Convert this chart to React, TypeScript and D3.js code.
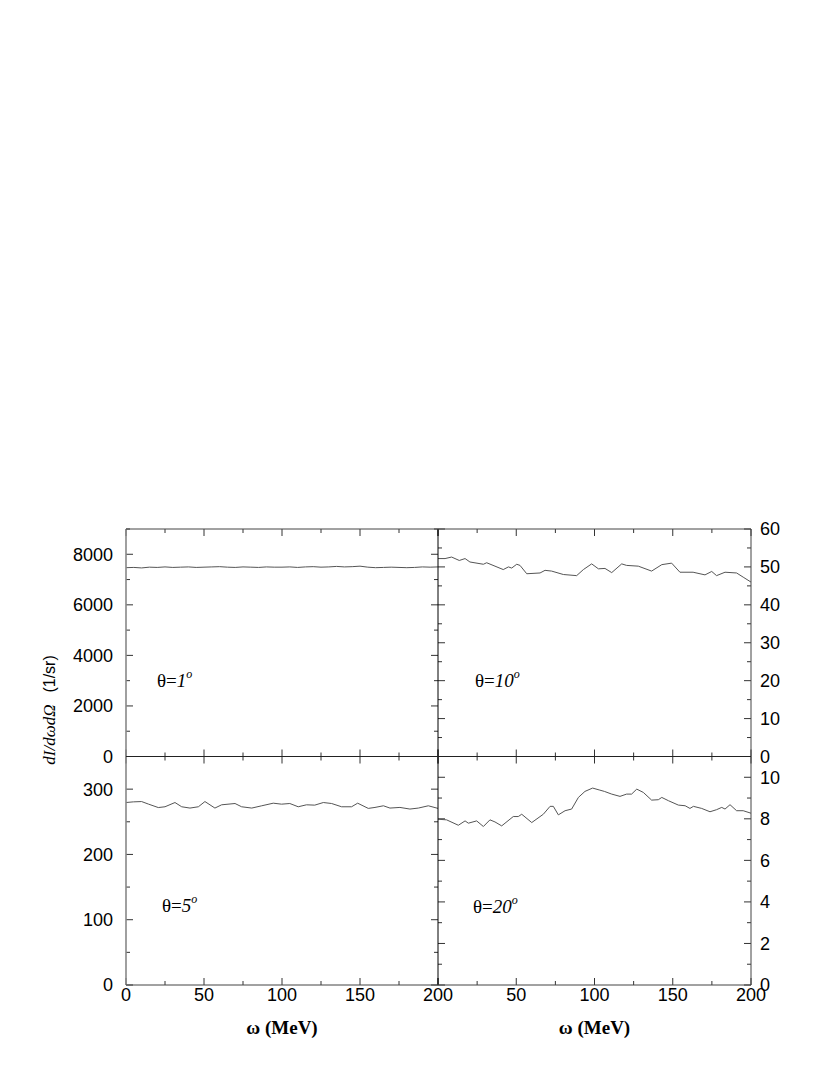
import React from "react";
import * as d3 from "d3";

// ---- data ----
const omega1 = d3.range(0, 201, 5);
const value1 = [7470, 7480, 7460, 7490, 7480, 7500, 7480, 7490, 7500, 7480, 7490, 7500, 7510, 7490, 7480, 7500, 7490, 7480, 7500, 7490, 7490, 7500, 7480, 7500, 7510, 7490, 7500, 7520, 7500, 7510, 7530, 7490, 7470, 7480, 7490, 7480, 7470, 7480, 7500, 7490, 7500];

const omega10 = [0, 4.5, 8.7, 13.6, 17.3, 20.4, 29, 31.1, 41.7, 45, 47.1, 50.3, 52.4, 56.7, 65.2, 68.4, 72.6, 80.1, 88.6, 92.9, 98.2, 102.5, 106.7, 111, 117.4, 120.5, 128, 136.5, 143, 149.3, 154.6, 163, 170.6, 174.9, 178, 183.4, 190.8, 195, 200];
const value10 = [52.2, 52.2, 52.6, 51.7, 52.2, 51.3, 50.7, 51.1, 49.3, 50, 49.7, 50.7, 50.4, 48.2, 48.4, 49.1, 48.9, 48, 47.7, 49.3, 50.8, 49.5, 49.6, 48.5, 50.8, 50.4, 50.2, 48.9, 50.6, 51, 48.6, 48.6, 47.9, 48.8, 47.7, 48.6, 48.4, 47.3, 46];

const omega5 = [0, 4.7, 10, 14.5, 20.7, 25, 31.4, 35.7, 41, 46.4, 50.6, 57, 61.3, 69.9, 74.1, 80.6, 87, 94.4, 99.7, 105, 110.4, 115.7, 121, 126.5, 131.8, 138.2, 144.6, 148.5, 155.3, 159.6, 165, 169.2, 175.6, 182, 187.4, 193.8, 200];
const value5 = [279.5, 280.5, 281, 277, 271.8, 273, 279.5, 273, 271, 273, 281, 271, 276, 278, 273, 271, 274.5, 278.5, 277, 278, 273, 276, 275.5, 279.5, 278, 273, 273, 278.5, 270.5, 272, 274.5, 271, 272, 269.5, 271, 274.5, 270.5];

const omega20 = [0, 5.5, 13, 17.3, 19.4, 24.7, 29, 33.2, 36.4, 40.7, 48.1, 51.3, 53.5, 59.9, 67.3, 71.6, 73.7, 76.9, 81.2, 85.4, 89.7, 93.9, 98.8, 103, 106.3, 111, 116.3, 120.5, 123.7, 127, 131.2, 136.5, 140.8, 143, 147.3, 153.6, 157.9, 161, 163.2, 168.5, 173.8, 178, 181.3, 183.4, 186.6, 190.8, 195, 200];
const value20 = [7.98, 7.95, 7.69, 7.9, 7.79, 7.9, 7.63, 7.95, 7.85, 7.66, 8.11, 8.11, 8.22, 7.82, 8.22, 8.6, 8.6, 8.19, 8.39, 8.47, 9.03, 9.32, 9.48, 9.39, 9.32, 9.19, 9.08, 9.19, 9.19, 9.43, 9.27, 8.9, 8.92, 9.03, 8.87, 8.66, 8.63, 8.5, 8.6, 8.5, 8.34, 8.44, 8.55, 8.47, 8.68, 8.39, 8.39, 8.27];

const xMajor = [0, 50, 100, 150, 200];
const xMinor = [25, 75, 125, 175];

// ---- layout ----
const X0 = 126, XM = 438, X1 = 751;
const Y0 = 529, YM = 756.5, Y1 = 985;
const MAJ = 7, MIN = 4;

type PanelDef = {
  x0: number; x1: number; y0: number; y1: number;
  ymax: number; yMajorStep: number; yMinorStep: number;
  omega: number[]; values: number[];
  side: "left" | "right"; bottom: boolean; top: boolean;
  label: string; labelX: number; labelY: number;
  showX0: boolean;
};

const panels: PanelDef[] = [
  { x0: X0, x1: XM, y0: Y0, y1: YM, ymax: 9000, yMajorStep: 2000, yMinorStep: 1000, omega: omega1, values: value1, side: "left", bottom: false, top: true, label: "1", labelX: 157, labelY: 687, showX0: true },
  { x0: XM, x1: X1, y0: Y0, y1: YM, ymax: 60, yMajorStep: 10, yMinorStep: 5, omega: omega10, values: value10, side: "right", bottom: false, top: true, label: "10", labelX: 475, labelY: 687, showX0: false },
  { x0: X0, x1: XM, y0: YM, y1: Y1, ymax: 350, yMajorStep: 100, yMinorStep: 50, omega: omega5, values: value5, side: "left", bottom: true, top: false, label: "5", labelX: 162, labelY: 912, showX0: true },
  { x0: XM, x1: X1, y0: YM, y1: Y1, ymax: 11, yMajorStep: 2, yMinorStep: 1, omega: omega20, values: value20, side: "right", bottom: true, top: false, label: "20", labelX: 473, labelY: 913, showX0: false },
];

const SANS = "'Liberation Sans', Arial, Helvetica, sans-serif";
const SERIF = "'Liberation Serif', 'Times New Roman', Times, serif";

function Panel({ p }: { p: PanelDef }) {
  const x = d3.scaleLinear().domain([0, 200]).range([p.x0, p.x1]);
  const y = d3.scaleLinear().domain([0, p.ymax]).range([p.y1, p.y0]);
  const line = d3.line<number>().x((_, i) => x(p.omega[i])).y((v) => y(v));
  const yMaj = d3.range(0, p.ymax + 1e-9, p.yMajorStep);
  const yMin = d3.range(0, p.ymax + 1e-9, p.yMinorStep).filter((v) => !yMaj.includes(v));
  const ticks: any[] = [];
  const tk = "#333";
  [p.x0, p.x1].forEach((sx, si) => {
    const dir = si === 0 ? 1 : -1;
    yMaj.forEach((v, i) => ticks.push(<line key={`ym${si}-${i}`} x1={sx} x2={sx + dir * MAJ} y1={y(v)} y2={y(v)} stroke={tk} strokeWidth={1} />));
    yMin.forEach((v, i) => ticks.push(<line key={`yn${si}-${i}`} x1={sx} x2={sx + dir * MIN} y1={y(v)} y2={y(v)} stroke={tk} strokeWidth={1} />));
  });
  [p.y0, p.y1].forEach((sy, si) => {
    const dir = si === 0 ? 1 : -1;
    xMajor.forEach((v, i) => ticks.push(<line key={`xm${si}-${i}`} y1={sy} y2={sy + dir * MAJ} x1={x(v)} x2={x(v)} stroke={tk} strokeWidth={1} />));
    xMinor.forEach((v, i) => ticks.push(<line key={`xn${si}-${i}`} y1={sy} y2={sy + dir * MIN} x1={x(v)} x2={x(v)} stroke={tk} strokeWidth={1} />));
  });
  return (
    <g>
      {ticks}
      <path d={line(p.values) || ""} fill="none" stroke="#555" strokeWidth={1} />
      {yMaj.map((v, i) => (
        <text key={`yl${i}`} x={p.side === "left" ? 113 : 760} y={y(v)} dy="0.36em" textAnchor={p.side === "left" ? "end" : "start"} fontFamily={SANS} fontSize={18} fill="#000">{v}</text>
      ))}
      {p.bottom && xMajor.filter((v) => p.showX0 || v !== 0).map((v, i) => (
        <text key={`xl${i}`} x={x(v)} y={1001} textAnchor="middle" fontFamily={SANS} fontSize={18} fill="#000">{v}</text>
      ))}
      {p.bottom && (
        <text x={(p.x0 + p.x1) / 2} y={1034} textAnchor="middle" fontFamily={SERIF} fontWeight="bold" fontSize={19} fill="#000">ω (MeV)</text>
      )}
      <text x={p.labelX} y={p.labelY} fontFamily={SERIF} fontSize={19} fill="#000">
        <tspan>θ=</tspan>
        <tspan fontStyle="italic">{p.label}</tspan>
        <tspan fontStyle="italic" fontSize={12} dy={-9}>o</tspan>
      </text>
    </g>
  );
}

export default function App() {
  return (
    <svg width={830} height={1075} style={{ position: "absolute", left: 0, top: 0, background: "#fff" }}>
      <rect x={0} y={0} width={830} height={1075} fill="#fff" />
      {panels.map((p, i) => <Panel key={i} p={p} />)}
      <line x1={X0} x2={X0} y1={Y0} y2={Y1} stroke="#888" strokeWidth={1.6} />
      <line x1={X1} x2={X1} y1={Y0} y2={Y1} stroke="#444" strokeWidth={1} />
      <line x1={XM} x2={XM} y1={Y0} y2={Y1} stroke="#000" strokeWidth={1} />
      <line x1={X0} x2={X1} y1={Y0} y2={Y0} stroke="#444" strokeWidth={1} />
      <line x1={X0} x2={X1} y1={YM} y2={YM} stroke="#222" strokeWidth={1} />
      <line x1={X0} x2={X1} y1={Y1} y2={Y1} stroke="#444" strokeWidth={1} />
      <text transform="translate(55,710) rotate(-90)" textAnchor="middle" fill="#000" fontSize={16}>
        <tspan fontFamily={SERIF} fontStyle="italic" fontSize={17}>dI/dωdΩ</tspan>
        <tspan fontFamily={SANS} dx={12}>(1/sr)</tspan>
      </text>
    </svg>
  );
}
